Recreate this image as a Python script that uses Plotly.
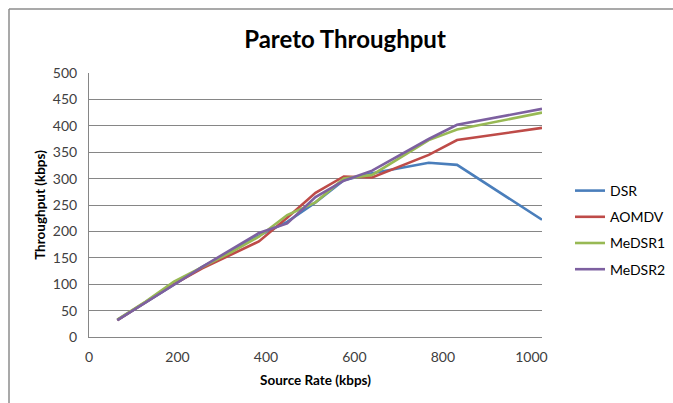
import plotly.graph_objects as go

# Source rate (kbps) and measured throughput (kbps) per protocol
source_rate = [64, 128, 192, 256, 320, 384, 448, 512, 576, 640, 768, 832, 1024]
dsr = [32, 66, 100, 133, 162, 192, 218, 255, 297, 310, 330, 326, 222]
aomdv = [32, 66, 100, 130, 155, 181, 226, 273, 304, 302, 345, 373, 396]
medsr1 = [33, 67, 105, 133, 160, 190, 231, 255, 300, 307, 373, 393, 425]
medsr2 = [32, 65, 99, 133, 165, 197, 215, 265, 296, 315, 375, 402, 432]

series_names = ["DSR", "AOMDV", "MeDSR1", "MeDSR2"]
series_values = [dsr, aomdv, medsr1, medsr2]
series_colors = ["#4A7EBB", "#BE4B48", "#98B954", "#7D60A0"]

x_ticks = [0, 200, 400, 600, 800, 1000]
y_ticks = [0, 50, 100, 150, 200, 250, 300, 350, 400, 450, 500]

FONT = "Lato, 'Open Sans', sans-serif"

fig = go.Figure()
for name, vals, col in zip(series_names, series_values, series_colors):
    fig.add_trace(go.Scatter(
        x=source_rate, y=vals, name=name, mode="lines",
        legendgroup=name,
        line=dict(color=col, width=2.6),
    ))

W, H = 673, 403
L, R, T, B = 89, 131, 73, 66
pw, ph = W - L - R, H - T - B


def px_to_paper(px, py):
    return (px - L) / pw, (H - B - py) / ph


# chart frame: only its left and top edges fall inside the page
fx0, fy_top = px_to_paper(9, 9)
fx1, fy_bot = px_to_paper(W + 10, H + 10)
frame = dict(color="#8c8c8c", width=1.5)

fig.update_layout(
    width=W, height=H,
    margin=dict(l=L, r=R, t=T, b=B, autoexpand=False),
    paper_bgcolor="white", plot_bgcolor="white",
    font=dict(family=FONT, color="#404040", size=13),
    title=dict(
        text="<b>Pareto Throughput</b>",
        font=dict(family=FONT, size=24, color="black"),
        x=345 / W, xanchor="center",
        y=1 - 40 / H, yanchor="middle",
    ),
    xaxis=dict(
        range=[0, 1024], tickvals=x_ticks, ticktext=[str(v) for v in x_ticks],
        showgrid=False, zeroline=False, showline=True, linecolor="#868686",
        linewidth=1, ticks="", ticklabelstandoff=7, automargin=False,
        tickfont=dict(size=14, color="#404040"),
        title=dict(text="<b>Source Rate (kbps)</b>", font=dict(size=13.5, color="#000000"), standoff=11),
    ),
    yaxis=dict(
        range=[0, 500], tickvals=y_ticks, ticktext=[str(v) for v in y_ticks],
        showgrid=True, gridcolor="#868686", gridwidth=1, zeroline=False,
        showline=True, linecolor="#868686", linewidth=1, ticks="",
        ticklabelstandoff=8, automargin=False,
        tickfont=dict(size=14, color="#404040"),
        title=dict(text="<b>Throughput (kbps)</b>", font=dict(size=13.5, color="#000000"), standoff=4),
    ),
    legend=dict(
        x=px_to_paper(570, 0)[0], xanchor="left",
        y=px_to_paper(0, 175)[1], yanchor="top",
        font=dict(size=14, color="#000000"),
        itemwidth=30, tracegroupgap=5, traceorder="grouped",
        bgcolor="rgba(0,0,0,0)",
    ),
    shapes=[
        dict(type="line", xref="paper", yref="paper",
             x0=fx0, x1=fx0, y0=fy_bot, y1=fy_top, line=frame, layer="below"),
        dict(type="line", xref="paper", yref="paper",
             x0=fx0, x1=fx1, y0=fy_top, y1=fy_top, line=frame, layer="below"),
    ],
)

fig.write_html("out.html")
